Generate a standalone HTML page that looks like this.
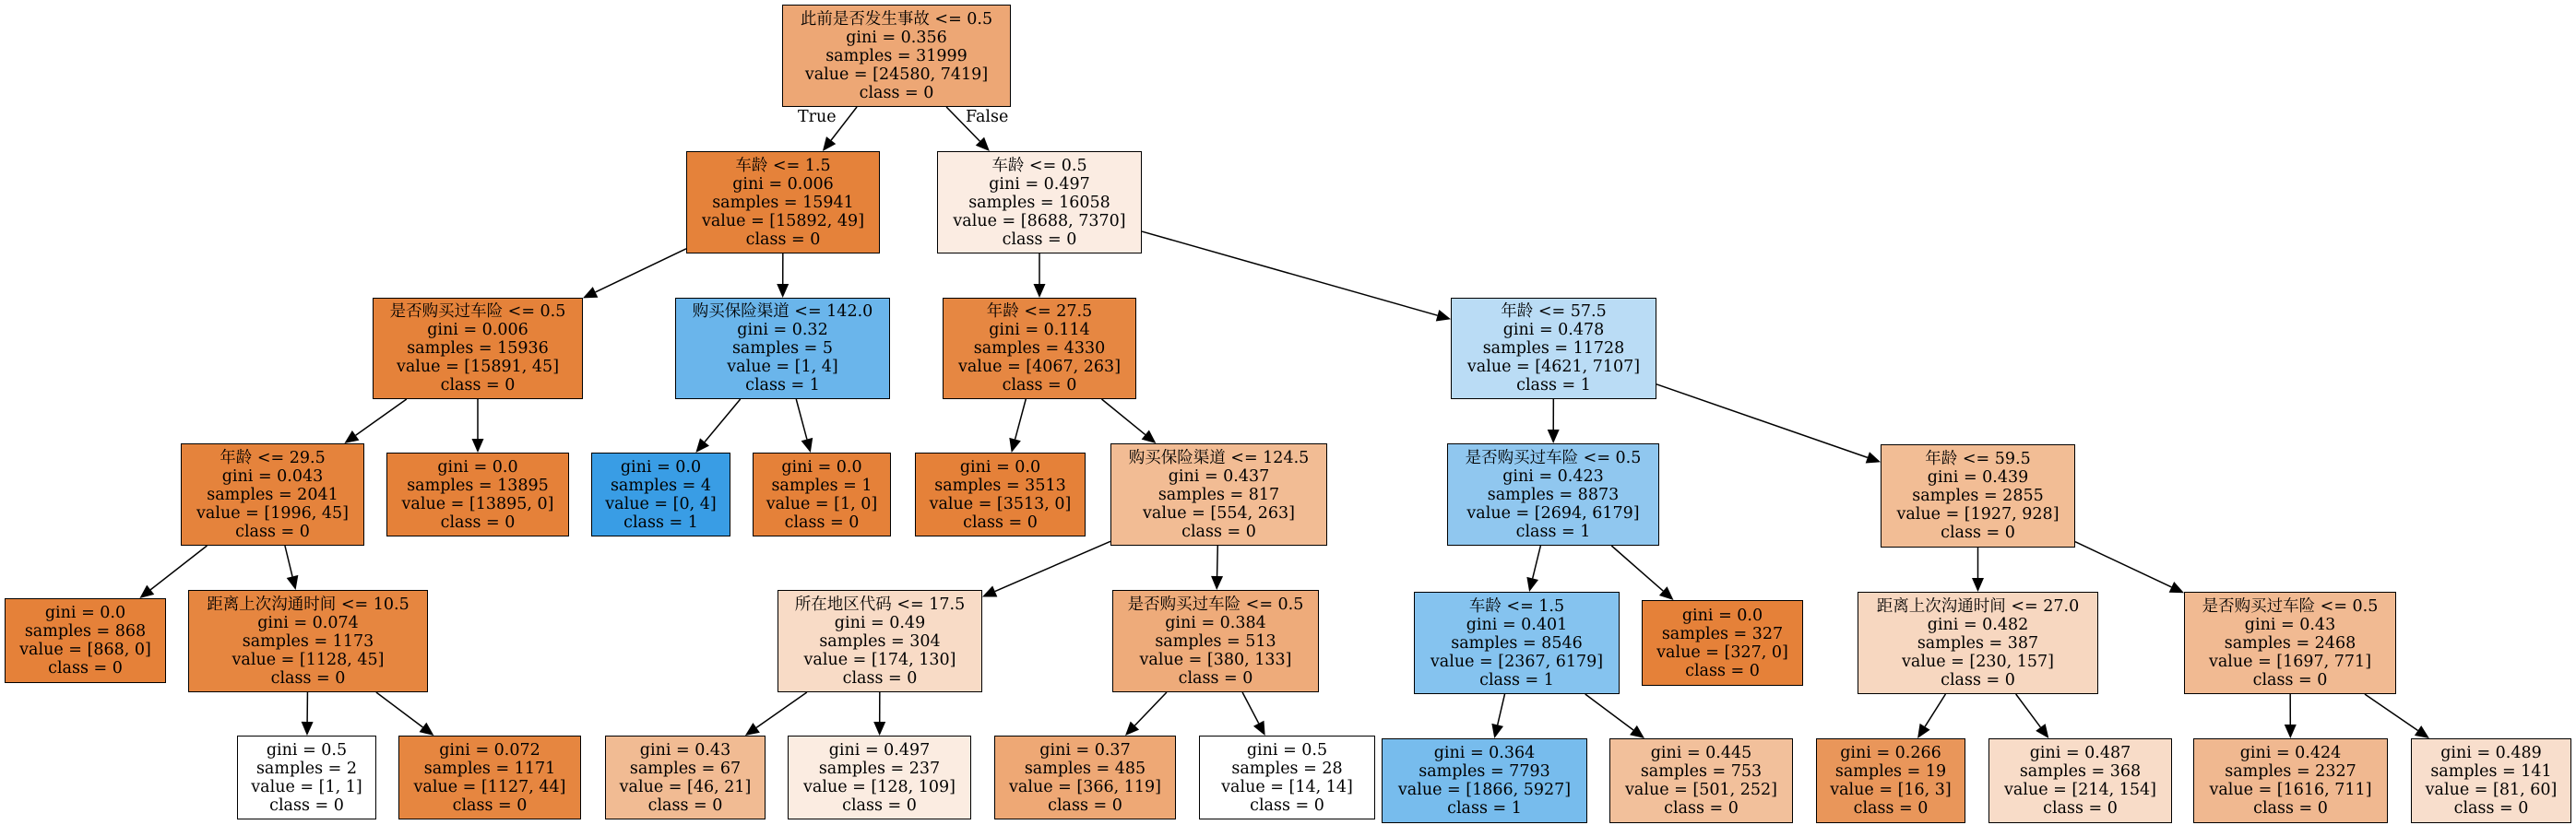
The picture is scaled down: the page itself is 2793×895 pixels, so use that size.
<!DOCTYPE html>
<html><head><meta charset="utf-8">
<style>
html,body{margin:0;padding:0;background:#fff;}
body{width:2793px;height:895px;overflow:hidden;position:relative;}
.n{position:absolute;box-sizing:border-box;border:1.5px solid #000;display:flex;flex-direction:column;justify-content:center;align-items:center;font-family:"DejaVu Serif","Noto Serif CJK SC",serif;font-size:17.5px;line-height:20px;white-space:nowrap;color:#000;}
.lbl{position:absolute;font-family:"DejaVu Serif",serif;font-size:17.5px;}
svg{position:absolute;left:0;top:0;}
</style></head><body>
<svg id="s" width="2793" height="895"></svg>
<div id="c"></div>
<div class="lbl" style="left:865px;top:117px;">True</div>
<div class="lbl" style="left:1047px;top:117px;">False</div>
<script>
var N=[
[848,1096,5,116,'237,167,117',['此前是否发生事故 <= 0.5','gini = 0.356','samples = 31999','value = [24580, 7419]','class = 0']],//0
[744,954,164,275,'229,130,58',['车龄 <= 1.5','gini = 0.006','samples = 15941','value = [15892, 49]','class = 0']],//1
[1016,1238,164,275,'251,236,226',['车龄 <= 0.5','gini = 0.497','samples = 16058','value = [8688, 7370]','class = 0']],//2
[404,632,323,433,'229,130,58',['是否购买过车险 <= 0.5','gini = 0.006','samples = 15936','value = [15891, 45]','class = 0']],//3
[732,965,323,433,'106,181,235',['购买保险渠道 <= 142.0','gini = 0.32','samples = 5','value = [1, 4]','class = 1']],//4
[1022,1232,323,433,'230,135,66',['年龄 <= 27.5','gini = 0.114','samples = 4330','value = [4067, 263]','class = 0']],//5
[1573,1796,323,433,'186,220,245',['年龄 <= 57.5','gini = 0.478','samples = 11728','value = [4621, 7107]','class = 1']],//6
[196,395,481,592,'229,131,60',['年龄 <= 29.5','gini = 0.043','samples = 2041','value = [1996, 45]','class = 0']],//7
[419,617,491,582,'229,129,57',['gini = 0.0','samples = 13895','value = [13895, 0]','class = 0']],//8
[641,792,491,582,'57,157,229',['gini = 0.0','samples = 4','value = [0, 4]','class = 1']],//9
[816,966,491,582,'229,129,57',['gini = 0.0','samples = 1','value = [1, 0]','class = 0']],//10
[992,1177,491,582,'229,129,57',['gini = 0.0','samples = 3513','value = [3513, 0]','class = 0']],//11
[1204,1439,481,592,'242,188,148',['购买保险渠道 <= 124.5','gini = 0.437','samples = 817','value = [554, 263]','class = 0']],//12
[1569,1799,481,592,'144,199,239',['是否购买过车险 <= 0.5','gini = 0.423','samples = 8873','value = [2694, 6179]','class = 1']],//13
[1780,1955,651,744,'229,129,57',['gini = 0.0','samples = 327','value = [327, 0]','class = 0']],//14
[2039,2250,482,594,'242,189,149',['年龄 <= 59.5','gini = 0.439','samples = 2855','value = [1927, 928]','class = 0']],//15
[5,180,649,741,'229,129,57',['gini = 0.0','samples = 868','value = [868, 0]','class = 0']],//16
[204,464,640,751,'230,134,64',['距离上次沟通时间 <= 10.5','gini = 0.074','samples = 1173','value = [1128, 45]','class = 0']],//17
[843,1065,640,751,'248,219,198',['所在地区代码 <= 17.5','gini = 0.49','samples = 304','value = [174, 130]','class = 0']],//18
[1206,1430,640,751,'238,171,122',['是否购买过车险 <= 0.5','gini = 0.384','samples = 513','value = [380, 133]','class = 0']],//19
[1533,1756,642,753,'133,195,239',['车龄 <= 1.5','gini = 0.401','samples = 8546','value = [2367, 6179]','class = 1']],//20
[2014,2275,642,753,'247,215,192',['距离上次沟通时间 <= 27.0','gini = 0.482','samples = 387','value = [230, 157]','class = 0']],//21
[2368,2598,642,753,'241,186,146',['是否购买过车险 <= 0.5','gini = 0.43','samples = 2468','value = [1697, 771]','class = 0']],//22
[257,408,798,889,'255,255,255',['gini = 0.5','samples = 2','value = [1, 1]','class = 0']],//23
[432,630,798,889,'230,134,64',['gini = 0.072','samples = 1171','value = [1127, 44]','class = 0']],//24
[656,830,798,889,'241,187,147',['gini = 0.43','samples = 67','value = [46, 21]','class = 0']],//25
[854,1053,798,889,'251,236,225',['gini = 0.497','samples = 237','value = [128, 109]','class = 0']],//26
[1078,1275,798,889,'238,168,117',['gini = 0.37','samples = 485','value = [366, 119]','class = 0']],//27
[1300,1491,798,889,'255,255,255',['gini = 0.5','samples = 28','value = [14, 14]','class = 0']],//28
[1498,1721,801,893,'119,188,237',['gini = 0.364','samples = 7793','value = [1866, 5927]','class = 1']],//29
[1745,1944,801,893,'242,192,155',['gini = 0.445','samples = 753','value = [501, 252]','class = 0']],//30
[1969,2131,801,893,'233,150,90',['gini = 0.266','samples = 19','value = [16, 3]','class = 0']],//31
[2156,2355,801,893,'248,220,200',['gini = 0.487','samples = 368','value = [214, 154]','class = 0']],//32
[2378,2589,801,893,'240,184,144',['gini = 0.424','samples = 2327','value = [1616, 711]','class = 0']],//33
[2614,2788,801,893,'248,222,204',['gini = 0.489','samples = 141','value = [81, 60]','class = 0']]//34
];
var E=[[0,1],[0,2],[1,3],[1,4],[2,5],[2,6],[3,7],[3,8],[4,9],[4,10],[5,11],[5,12],[6,13],[6,15],[13,20],[13,14],[15,21],[15,22],
[7,16],[7,17],[12,18],[12,19],[17,23],[17,24],[18,25],[18,26],[19,27],[19,28],[20,29],[20,30],[21,31],[21,32],[22,33],[22,34]];
var c=document.getElementById('c'),h='';
N.forEach(function(n){h+='<div class="n" style="left:'+n[0]+'px;top:'+n[2]+'px;width:'+(n[1]-n[0])+'px;height:'+(n[3]-n[2])+'px;background:rgb('+n[4]+')">'+n[5].map(function(t){return '<div>'+t.replace(/</g,'&lt;')+'</div>'}).join('')+'</div>';});
c.innerHTML=h;
function clip(n,cx,cy,dx,dy){var hw=(n[1]-n[0])/2,hh=(n[3]-n[2])/2;var t=Math.min(dx?hw/Math.abs(dx):1e9,dy?hh/Math.abs(dy):1e9);return [cx+dx*t,cy+dy*t];}
var s='';
E.forEach(function(e){var a=N[e[0]],b=N[e[1]];var ax=(a[0]+a[1])/2,ay=(a[2]+a[3])/2,bx=(b[0]+b[1])/2,by=(b[2]+b[3])/2;
var dx=bx-ax,dy=by-ay;var p=clip(a,ax,ay,dx,dy),q=clip(b,bx,by,-dx,-dy);
var L=Math.hypot(dx,dy),ux=dx/L,uy=dy/L;var al=15,aw=6.5;var bxp=q[0]-ux*al,byp=q[1]-uy*al;
s+='<line x1="'+p[0]+'" y1="'+p[1]+'" x2="'+bxp+'" y2="'+byp+'" stroke="#000" stroke-width="1.5"/>';
s+='<polygon points="'+q[0]+','+q[1]+' '+(bxp-uy*aw)+','+(byp+ux*aw)+' '+(bxp+uy*aw)+','+(byp-ux*aw)+'" fill="#000"/>';});
document.getElementById('s').innerHTML=s;
</script>
</body></html>
